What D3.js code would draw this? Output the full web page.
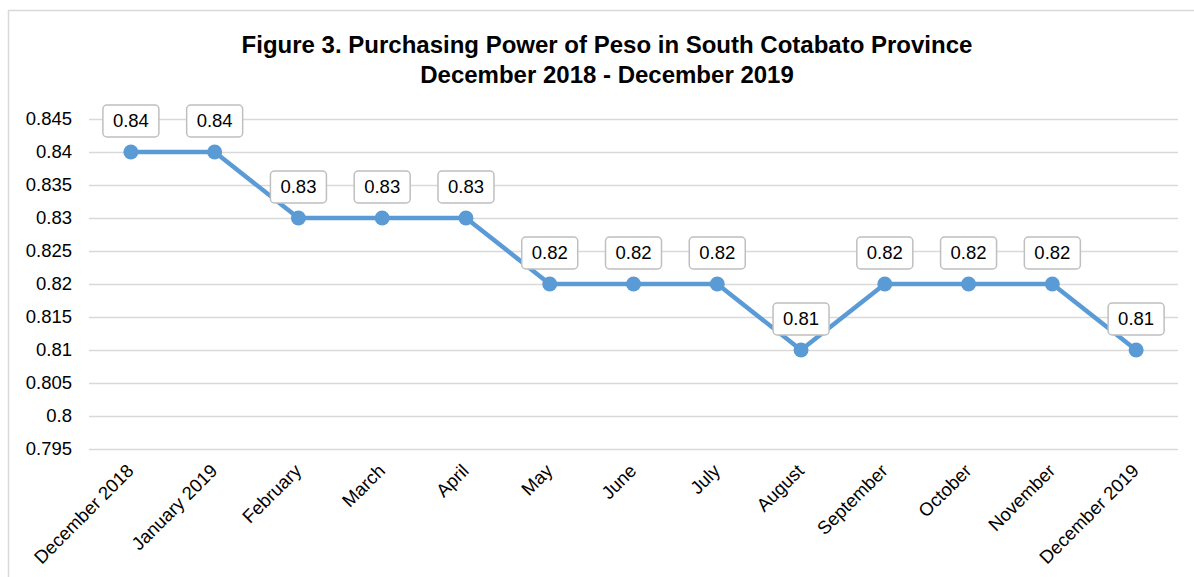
<!DOCTYPE html>
<html>
<head>
<meta charset="utf-8">
<script src="https://cdn.jsdelivr.net/npm/d3@7"></script>
<style>
  body { margin: 0; background: #fff; }
  svg { display: block; font-family: "Liberation Sans", Arial, sans-serif; }
</style>
</head>
<body>
<div id="chart"></div>
<script>
'use strict';

// data
const months = ["December 2018", "January 2019", "February", "March", "April", "May",
                "June", "July", "August", "September", "October", "November", "December 2019"];
const power = [0.84, 0.84, 0.83, 0.83, 0.83, 0.82, 0.82, 0.82, 0.81, 0.82, 0.82, 0.82, 0.81];
const yTicks = [0.795, 0.8, 0.805, 0.81, 0.815, 0.82, 0.825, 0.83, 0.835, 0.84, 0.845];
const titleLines = ["Figure 3. Purchasing Power of Peso in South Cotabato Province",
                    "December 2018 - December 2019"];

const w = 1194, h = 577;
const margin = {top: 119, right: 16, bottom: 128, left: 89};

const svg = d3.select("#chart")
    .append("svg")
    .attr("width", w)
    .attr("height", h);

svg.append("rect")
    .attr("x", 8.5).attr("y", 10.5)
    .attr("width", 1200).attr("height", 600)
    .attr("fill", "#fff")
    .attr("stroke", "#d9d9d9")
    .attr("stroke-width", 1.5);

svg.selectAll("text.title")
    .data(titleLines)
    .enter()
    .append("text")
    .attr("class", "title")
    .attr("x", 607)
    .attr("y", (d, i) => 53 + i * 30)
    .attr("text-anchor", "middle")
    .attr("font-size", 24)
    .attr("font-weight", "bold")
    .attr("fill", "#000")
    .text(d => d);

const x = d3.scaleBand()
    .domain(months)
    .range([margin.left, w - margin.right]);

const y = d3.scaleLinear()
    .domain([0.795, 0.845])
    .range([h - margin.bottom, margin.top]);

// gridlines + y labels
const yAxis = svg.append("g")
    .attr("transform", `translate(${margin.left},0)`)
    .call(d3.axisLeft(y)
        .tickValues(yTicks)
        .tickSize(-(w - margin.left - margin.right))
        .tickPadding(17)
        .tickFormat(d => String(+d.toFixed(3))));
yAxis.select(".domain").remove();
yAxis.selectAll(".tick line")
    .attr("stroke", "#d9d9d9")
    .attr("stroke-width", 1.5);
yAxis.selectAll(".tick text")
    .attr("font-size", 18.5)
    .attr("font-family", "Liberation Sans, Arial, sans-serif")
    .attr("fill", "#000");

// x labels
svg.selectAll("text.month")
    .data(months)
    .enter()
    .append("text")
    .attr("class", "month")
    .attr("text-anchor", "end")
    .attr("font-size", 18.5)
    .attr("fill", "#000")
    .attr("transform", d => `translate(${x(d) + x.bandwidth() / 2 + 4},472) rotate(-45)`)
    .text(d => d);

const cx = (d, i) => x(months[i]) + x.bandwidth() / 2;

svg.append("path")
    .datum(power)
    .attr("fill", "none")
    .attr("stroke", "#5b9bd5")
    .attr("stroke-width", 4.5)
    .attr("stroke-linejoin", "round")
    .attr("d", d3.line().x(cx).y(d => y(d)));

svg.selectAll("circle.pt")
    .data(power)
    .enter()
    .append("circle")
    .attr("class", "pt")
    .attr("cx", cx)
    .attr("cy", d => y(d))
    .attr("r", 7.5)
    .attr("fill", "#5b9bd5");

// data labels
const lab = svg.selectAll("g.lab")
    .data(power)
    .enter()
    .append("g")
    .attr("class", "lab")
    .attr("transform", (d, i) => `translate(${cx(d, i)},${y(d) - 31})`);

lab.append("rect")
    .attr("x", -28).attr("y", -16)
    .attr("width", 56).attr("height", 32)
    .attr("rx", 4)
    .attr("fill", "#fff")
    .attr("stroke", "#bfbfbf")
    .attr("stroke-width", 1.5);

lab.append("text")
    .attr("text-anchor", "middle")
    .attr("dy", "0.35em")
    .attr("font-size", 18.5)
    .attr("fill", "#000")
    .text(d => d.toFixed(2));
</script>
</body>
</html>
